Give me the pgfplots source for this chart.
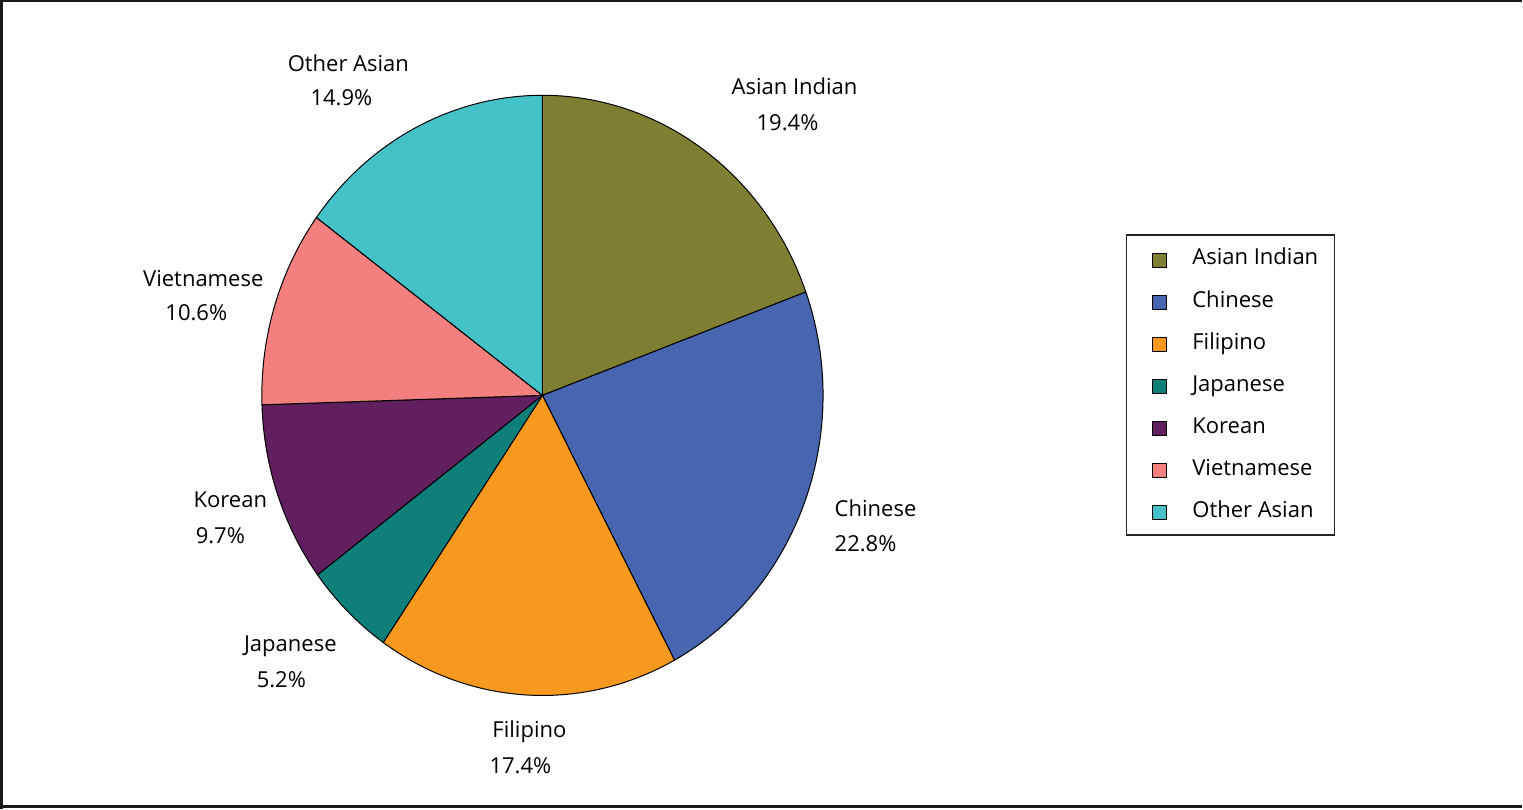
\documentclass[border=0pt]{standalone}
\usepackage{pgfplots}
\usepackage{pgfplotstable}
\pgfplotsset{compat=1.18}
\usepackage{fontspec}
\setmainfont{Open Sans}

\definecolor{slice0}{HTML}{7F7F33}
\definecolor{slice1}{HTML}{4766AF}
\definecolor{slice2}{HTML}{F7991E}
\definecolor{slice3}{HTML}{0F7F7A}
\definecolor{slice4}{HTML}{611F5F}
\definecolor{slice5}{HTML}{F37F7F}
\definecolor{slice6}{HTML}{45C2C7}

\pgfplotstableread[col sep=comma]{
name,value
Asian Indian,19.4
Chinese,22.8
Filipino,17.4
Japanese,5.2
Korean,9.7
Vietnamese,10.6
Other Asian,14.9
}\piedata

\begin{document}
\begin{tikzpicture}[lbl/.style={font=\fontsize{22}{26}\selectfont, inner sep=0pt, anchor=base}]
\begin{axis}[
  x=1pt, y=1pt, xmin=0, xmax=1523, ymin=0, ymax=810,
  scale only axis, hide axis, clip=false,
  at={(0,0)}, anchor=south west,
  legend style={at={(axis cs:1127,574)}, anchor=north west,
    draw=black!85, line width=1.3pt,
    font=\fontsize{22}{26}\selectfont,
    inner xsep=16pt, inner ysep=14pt,
    row sep=22pt, column sep=26pt,
    nodes={inner sep=0pt, text height=16pt, text depth=4pt, anchor=base west}},
  legend cell align=left,
  legend image code/.code={%
    \path (-9pt,0pt);
    \draw[#1, line width=0.8pt] (0pt,-2pt) rectangle (14pt,12pt);},
]
\pgfmathsetmacro\cum{90}
\pgfplotsforeachungrouped \i in {0,...,6}{%
  \pgfplotstablegetelem{\i}{value}\of\piedata
  \pgfmathsetmacro\ang{\pgfplotsretval*3.6}%
  \pgfmathsetmacro\endang{\cum-\ang}%
  \edef\temp{\noexpand\filldraw[fill=slice\i, draw=black, line width=1pt]
    (axis cs:544,413) -- ++(\cum:280.5pt and 300pt)
    arc[start angle=\cum, end angle=\endang, x radius=280.5pt, y radius=300pt] -- cycle;}%
  \temp
  \global\let\cum\endang
}
\addlegendimage{fill=slice0, draw=black}\addlegendentry{Asian Indian}
\addlegendimage{fill=slice1, draw=black}\addlegendentry{Chinese}
\addlegendimage{fill=slice2, draw=black}\addlegendentry{Filipino}
\addlegendimage{fill=slice3, draw=black}\addlegendentry{Japanese}
\addlegendimage{fill=slice4, draw=black}\addlegendentry{Korean}
\addlegendimage{fill=slice5, draw=black}\addlegendentry{Vietnamese}
\addlegendimage{fill=slice6, draw=black}\addlegendentry{Other Asian}

\node[lbl] at (axis cs:796,714) {Asian Indian};
\node[lbl] at (axis cs:789,678) {19.4\%};
\node[lbl] at (axis cs:350,737) {Other Asian};
\node[lbl] at (axis cs:343,703) {14.9\%};
\node[lbl] at (axis cs:205,522) {Vietnamese};
\node[lbl] at (axis cs:198,488) {10.6\%};
\node[lbl] at (axis cs:232,301) {Korean};
\node[lbl] at (axis cs:222,265) {9.7\%};
\node[lbl] at (axis cs:292,157) {Japanese};
\node[lbl] at (axis cs:283,121) {5.2\%};
\node[lbl] at (axis cs:531,71) {Filipino};
\node[lbl] at (axis cs:522,35) {17.4\%};
\node[lbl] at (axis cs:877,292) {Chinese};
\node[lbl] at (axis cs:867,257) {22.8\%};

\draw[line width=2.5pt, black!90] (axis cs:3,0) -- (axis cs:3,807) -- (axis cs:1523,807);
\draw[line width=2.5pt, black!90] (axis cs:3,2) -- (axis cs:1523,2);
\end{axis}
\end{tikzpicture}
\end{document}
